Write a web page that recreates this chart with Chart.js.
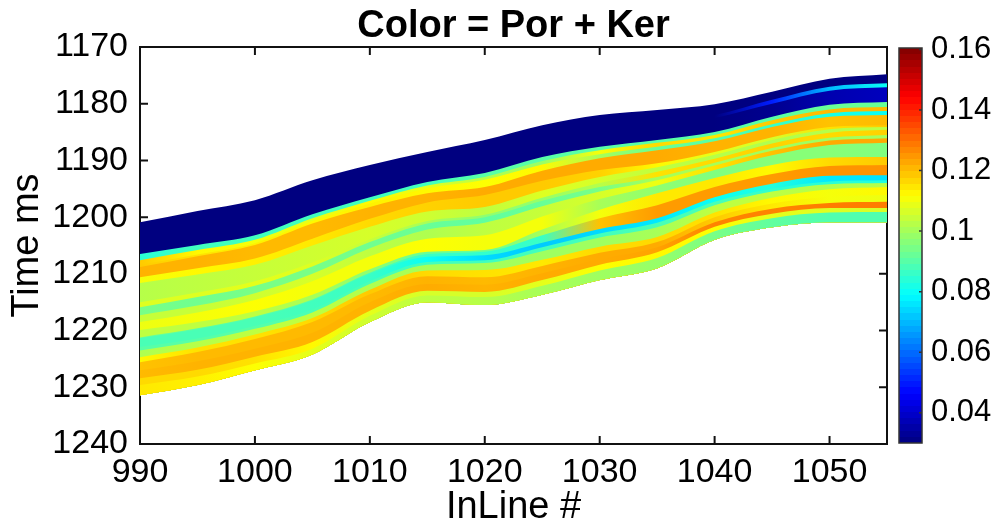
<!DOCTYPE html>
<html><head><meta charset="utf-8">
<script src="https://cdn.jsdelivr.net/npm/chart.js@4"></script>
<style>html,body{margin:0;padding:0;background:#fff;width:996px;height:527px;overflow:hidden}
canvas{position:absolute;top:0}</style></head><body>
<canvas id="main" width="996" height="527" style="left:0;width:996px;height:527px"></canvas>
<canvas id="bar" width="106" height="527" style="left:890px;width:106px;height:527px"></canvas>
<script>
const inlines=[990,995,1000,1005,1010,1015,1020,1025,1030,1035,1040,1045,1050,1055];
const xTicks=[990,1000,1010,1020,1030,1040,1050];
const timeTicks=[1170,1180,1190,1200,1210,1220,1230,1240];
const colorTicks=[0.04,0.06,0.08,0.1,0.12,0.14,0.16];
const colorRange=[0.03,0.1605];
// Horizon times (ms)
const h00=[1200.9,1198.9,1197.0,1193.5,1190.8,1188.5,1186.4,1183.8,1182.0,1181.1,1180.1,1177.9,1175.6,1174.8];
const h01=[1203.0,1201.0,1199.5,1196.0,1193.0,1190.5,1188.5,1186.0,1184.5,1183.5,1182.0,1179.3,1177.0,1176.4];
const h02=[1203.6,1201.6,1200.1,1196.6,1193.6,1191.1,1189.1,1186.6,1185.1,1184.1,1182.5,1180.0,1177.7,1177.1];
const h03=[1206.5,1204.9,1203.2,1199.5,1196.5,1193.8,1192.2,1189.4,1187.6,1186.4,1185.0,1182.3,1180.2,1179.7];
const h04=[1207.6,1205.8,1204.0,1200.2,1197.1,1194.4,1192.9,1190.1,1188.2,1186.9,1185.5,1182.9,1181.0,1180.6];
const h05=[1208.4,1206.6,1204.6,1200.7,1197.6,1194.9,1193.4,1190.7,1188.9,1187.6,1186.1,1183.6,1181.7,1181.3];
const h06=[1208.8,1206.9,1204.9,1201.1,1198.2,1195.8,1194.7,1191.8,1189.6,1188.2,1186.6,1184.1,1182.3,1182.0];
const h07=[1210.6,1209.0,1207.3,1203.8,1200.3,1197.4,1196.1,1193.6,1191.7,1190.5,1188.5,1185.9,1184.1,1183.8];
const h08=[1211.6,1210.1,1208.4,1205.0,1201.7,1199.0,1198.2,1195.3,1192.9,1191.2,1189.0,1186.4,1184.5,1184.1];
const h09=[1215.0,1213.3,1211.3,1208.0,1203.9,1200.7,1199.6,1196.6,1194.0,1192.0,1189.7,1187.0,1185.1,1184.6];
const h10=[1215.9,1214.1,1212.1,1208.7,1204.4,1201.1,1200.0,1197.1,1194.7,1192.9,1190.4,1187.8,1186.0,1185.5];
const h11=[1217.3,1215.6,1213.4,1210.0,1205.5,1202.2,1201.0,1198.1,1195.5,1193.5,1190.9,1188.3,1186.5,1186.1];
const h12=[1218.5,1216.8,1214.6,1211.3,1206.9,1203.8,1203.2,1199.9,1196.8,1194.4,1191.7,1189.1,1187.3,1186.9];
const h13=[1219.9,1218.5,1216.6,1213.7,1209.2,1206.1,1205.8,1202.2,1198.7,1195.8,1193.1,1190.8,1189.5,1189.4];
const h14=[1221.2,1219.6,1217.5,1214.5,1209.8,1206.5,1206.1,1203.2,1200.2,1197.9,1194.7,1192.4,1191.0,1190.8];
const h15=[1221.3,1219.8,1217.7,1214.7,1210.0,1207.0,1206.7,1204.5,1202.1,1200.2,1196.5,1194.1,1192.7,1192.6];
const h16=[1222.9,1221.4,1219.2,1216.3,1211.3,1207.9,1207.6,1205.3,1202.9,1201.0,1197.3,1195.0,1193.7,1193.5];
const h17=[1223.5,1221.9,1219.7,1216.8,1211.8,1208.4,1208.1,1206.0,1203.6,1201.8,1197.9,1195.5,1194.2,1194.0];
const h18=[1224.7,1223.0,1220.7,1217.8,1212.8,1209.4,1209.3,1207.5,1205.2,1203.5,1199.2,1196.6,1195.1,1194.7];
const h19=[1225.6,1223.8,1221.5,1218.5,1213.6,1210.4,1210.6,1208.6,1206.3,1204.4,1200.0,1197.6,1196.4,1196.1];
const h20=[1227.0,1225.4,1223.2,1220.4,1215.0,1211.8,1211.9,1209.9,1207.4,1205.3,1200.9,1198.5,1197.5,1197.3];
const h21=[1228.4,1226.9,1224.6,1222.0,1216.5,1213.0,1213.2,1211.1,1208.4,1206.2,1201.7,1199.4,1198.4,1198.4];
const h22=[1229.6,1228.1,1225.8,1223.2,1217.4,1213.8,1214.1,1212.1,1209.4,1207.2,1202.5,1200.2,1199.2,1199.1];
const h23=[1231.4,1229.6,1227.0,1224.2,1218.5,1215.0,1215.5,1213.7,1211.1,1209.0,1204.0,1201.8,1200.9,1200.9];
// Por + Ker of the layer under each horizon
const v00=[.03,.03,.03,.03,.03,.03,.03,.03,.03,.03,.03,.03,.03,.03];
const v01=[.03,.03,.03,.03,.03,.03,.03,.03,.03,.03,.03,.05,.07,.08];
const v02=[.03,.03,.03,.03,.03,.03,.03,.03,.03,.03,.03,.032,.036,.038];
const v03=[.084,.087,.087,.087,.087,.087,.09,.09,.09,.09,.09,.09,.092,.092];
const v04=[.118,.112,.11,.108,.112,.108,.102,.098,.11,.116,.114,.118,.12,.12];
const v05=[.118,.115,.113,.112,.113,.112,.111,.112,.1,.092,.09,.086,.082,.08];
const v06=[.121,.121,.12,.12,.121,.121,.122,.122,.122,.122,.121,.121,.119,.12];
const v07=[.11,.112,.113,.114,.116,.117,.118,.118,.117,.112,.108,.106,.115,.118];
const v08=[.102,.103,.104,.105,.106,.105,.103,.107,.106,.103,.102,.101,.102,.103];
const v09=[.107,.107,.108,.107,.104,.1,.097,.098,.102,.115,.116,.117,.116,.117];
const v10=[.094,.093,.094,.094,.093,.092,.091,.092,.094,.1,.1,.099,.099,.1];
const v11=[.104,.104,.105,.106,.103,.101,.103,.104,.106,.109,.115,.119,.122,.122];
const v12=[.109,.11,.111,.11,.11,.111,.11,.11,.1,.097,.095,.096,.096,.095];
const v13=[.103,.103,.103,.1,.097,.092,.092,.1,.11,.114,.114,.112,.116,.118];
const v14=[.092,.09,.09,.09,.088,.086,.085,.086,.119,.124,.124,.124,.125,.125];
const v15=[.088,.088,.088,.087,.086,.08,.074,.072,.074,.076,.08,.083,.076,.075];
const v16=[.09,.09,.09,.088,.088,.087,.087,.087,.087,.088,.088,.085,.084,.083];
const v17=[.101,.102,.103,.103,.101,.1,.1,.099,.099,.1,.103,.103,.101,.102];
const v18=[.112,.115,.115,.116,.118,.116,.115,.114,.116,.116,.115,.112,.11,.112];
const v19=[.119,.12,.12,.12,.12,.121,.12,.121,.122,.122,.118,.114,.11,.109];
const v20=[.12,.121,.121,.121,.121,.122,.121,.122,.122,.123,.127,.127,.128,.128];
const v21=[.116,.116,.115,.112,.108,.106,.106,.108,.111,.112,.111,.108,.107,.106];
const v22=[.114,.113,.111,.108,.105,.103,.102,.1,.099,.098,.094,.091,.089,.089];

const horizons=[h00,h01,h02,h03,h04,h05,h06,h07,h08,h09,h10,h11,h12,h13,h14,h15,h16,h17,h18,h19,h20,h21,h22,h23];
const bandValues=[v00,v01,v02,v03,v04,v05,v06,v07,v08,v09,v10,v11,v12,v13,v14,v15,v16,v17,v18,v19,v20,v21,v22];

const FONT='"Liberation Sans", Arial, sans-serif';
const clip01=a=>Math.max(0,Math.min(1,a));
function jet(v){
  const t=clip01((v-0.03)/0.13);
  const r=clip01(Math.min(4*t-1.5,-4*t+4.5));
  const g=clip01(Math.min(4*t-0.5,-4*t+3.5));
  const b=clip01(Math.min(4*t+0.5,-4*t+2.5));
  return `rgb(${Math.round(r*255)},${Math.round(g*255)},${Math.round(b*255)})`;
}
function bandFill(values){
  return function(c){
    const chart=c.chart, area=chart.chartArea;
    if(!area) return jet(values[0]);
    const xs=chart.scales.x;
    const g=chart.ctx.createLinearGradient(area.left,0,area.right,0);
    inlines.forEach((x,i)=>g.addColorStop(clip01((xs.getPixelForValue(x)-area.left)/(area.right-area.left)),jet(values[i])));
    return g;
  };
}
const last=horizons.length-1;
const datasets=horizons.map((h,i)=>({
  data:h.map((y,k)=>({x:inlines[k],y})),
  borderWidth:0,pointRadius:0,
  cubicInterpolationMode:'monotone',
  fill:i<last?last:false,
  backgroundColor:i<last?bandFill(bandValues[i]):'rgba(0,0,0,0)',
  order:last-i
}));
const frame={id:'frame',
  beforeDatasetsDraw(chart){
    const {ctx,chartArea:a,scales:{x,y}}=chart;
    ctx.save();ctx.strokeStyle='#111';ctx.lineWidth=2;
    ctx.strokeRect(a.left,a.top,a.right-a.left,a.bottom-a.top);
    ctx.beginPath();
    xTicks.forEach(v=>{const p=x.getPixelForValue(v);ctx.moveTo(p,a.bottom);ctx.lineTo(p,a.bottom-8);ctx.moveTo(p,a.top);ctx.lineTo(p,a.top+8);});
    timeTicks.forEach(v=>{const p=y.getPixelForValue(v);ctx.moveTo(a.left,p);ctx.lineTo(a.left+8,p);ctx.moveTo(a.right,p);ctx.lineTo(a.right-8,p);});
    ctx.stroke();ctx.restore();
  }
};
new Chart(document.getElementById('main'),{
  type:'line',data:{datasets},plugins:[frame],
  options:{responsive:false,animation:false,
    layout:{padding:{left:0,right:109,top:0,bottom:0}},
    plugins:{legend:{display:false},tooltip:{enabled:false},
      title:{display:true,text:'Color = Por + Ker',fullSize:false,color:'#000',
        font:{family:FONT,size:38,weight:'bold',lineHeight:1},padding:{top:8,bottom:1}}},
    scales:{
      x:{type:'linear',min:990,max:1055,
        grid:{display:false},border:{display:false},
        afterBuildTicks:s=>{s.ticks=xTicks.map(value=>({value}));},
        afterFit:s=>{s.height=83;},
        ticks:{color:'#000',font:{family:FONT,size:34},padding:0,maxRotation:0,autoSkip:false,callback:v=>String(v)},
        title:{display:true,text:'InLine #',color:'#000',font:{family:FONT,size:38,lineHeight:1},padding:{top:0,bottom:0}}},
      y:{type:'linear',reverse:true,min:1170,max:1240,
        grid:{display:false},border:{display:false},
        afterBuildTicks:s=>{s.ticks=timeTicks.map(value=>({value}));},
        afterFit:s=>{s.width=140;},
        ticks:{color:'#000',font:{family:FONT,size:34},padding:4,autoSkip:false,callback:v=>String(v)},
        title:{display:true,text:'Time ms',color:'#000',font:{family:FONT,size:38,lineHeight:1},padding:{top:9,bottom:0}}}
    }
  }
});
function barFill(c){
  const area=c.chart.chartArea;
  if(!area) return jet(0.1);
  const g=c.chart.ctx.createLinearGradient(0,area.bottom,0,area.top);
  const n=64;
  for(let i=0;i<n;i++){
    const col=jet(0.03+0.13*(i+0.5)/n);
    g.addColorStop(i/n,col);g.addColorStop((i+1)/n,col);
  }
  return g;
}
const barFrame={id:'barFrame',
  afterDatasetsDraw(chart){
    const {ctx,chartArea:a,scales:{y}}=chart;
    ctx.save();ctx.strokeStyle='#333';ctx.lineWidth=1.5;
    ctx.strokeRect(a.left,a.top,a.right-a.left,a.bottom-a.top);
    ctx.beginPath();
    colorTicks.forEach(v=>{const p=y.getPixelForValue(v);ctx.moveTo(a.right,p);ctx.lineTo(a.right-3,p);});
    ctx.stroke();ctx.restore();
  }
};
new Chart(document.getElementById('bar'),{
  type:'bar',plugins:[barFrame],
  data:{labels:['Por + Ker'],datasets:[{data:[colorRange],backgroundColor:barFill,barPercentage:1,categoryPercentage:1,borderWidth:0}]},
  options:{responsive:false,animation:false,
    layout:{padding:{left:9,right:0,top:48,bottom:84}},
    plugins:{legend:{display:false},tooltip:{enabled:false}},
    scales:{
      x:{display:false},
      y:{position:'right',min:colorRange[0],max:colorRange[1],
        grid:{display:false},border:{display:false},
        afterBuildTicks:s=>{s.ticks=colorTicks.map(value=>({value}));},
        afterFit:s=>{s.width=74;},
        ticks:{color:'#000',font:{family:FONT,size:31},padding:1,autoSkip:false,callback:v=>String(+v.toFixed(2))}}
    }
  }
});
</script></body></html>
